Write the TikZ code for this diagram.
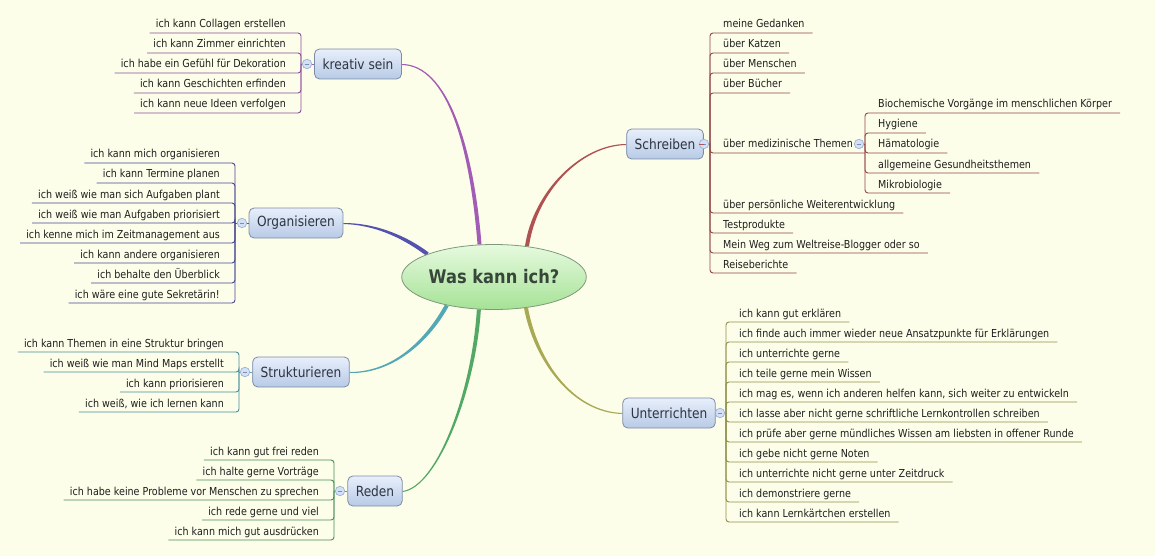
\documentclass[tikz,border=0pt]{standalone}
\usepackage{fontspec}
\setmainfont{DejaVu Sans}[FakeStretch=0.87]
\usetikzlibrary{calc, shapes.geometric}

\definecolor{paper}{HTML}{FDFEE9}
\definecolor{leaftext}{HTML}{1E1E1E}
\definecolor{boxtext}{HTML}{2E3440}
\definecolor{boxline}{HTML}{7D8CA6}
\definecolor{boxtop}{HTML}{E8EFFB}
\definecolor{boxbot}{HTML}{B7CAE6}
\definecolor{rootline}{HTML}{7E9A7A}
\definecolor{roottop}{HTML}{E6FADF}
\definecolor{rootbot}{HTML}{A6E296}
\definecolor{roottext}{HTML}{37473A}
\definecolor{foldfill}{HTML}{D3E0F5}
\definecolor{foldline}{HTML}{9CB2D6}
\definecolor{kreativ}{HTML}{A25CB5}
\definecolor{orga}{HTML}{5452AE}
\definecolor{struk}{HTML}{52A8B5}
\definecolor{reden}{HTML}{52A865}
\definecolor{schreib}{HTML}{AE5252}
\definecolor{unterr}{HTML}{A8A855}

\pgfdeclarelayer{links}
\pgfsetlayers{links,main}

\begin{document}
\begin{tikzpicture}[x=1pt, y=-1pt,
    leaf/.style={font=\fontsize{11}{13}\selectfont, text=leaftext, inner sep=0pt},
    lleaf/.style={leaf, anchor=base east},
    rleaf/.style={leaf, anchor=base west},
    branch/.style={draw=boxline, line width=0.8pt, rounded corners=5pt, top color=boxtop, bottom color=boxbot,
        minimum height=30pt, inner xsep=8pt, font=\fontsize{14}{16}\selectfont, text=boxtext},
    root/.style={ellipse, draw=rootline, line width=0.8pt, top color=roottop, bottom color=rootbot,
        minimum width=182pt, minimum height=65pt, inner sep=0pt, font=\bfseries\fontsize{18.7}{22}\selectfont, text=roottext},
    fold/.style={circle, draw=foldline, fill=foldfill, line width=0.7pt, minimum size=9.5pt, inner sep=0pt,
        path picture={\draw[foldline!80!black, line width=0.8pt] ([xshift=-2.3pt]path picture bounding box.center) -- ([xshift=2.3pt]path picture bounding box.center);}},
    twig/.style={line width=0.9pt, rounded corners=3pt}
]
    \useasboundingbox (0,0) rectangle (1155,556);
    \begin{pgfonlayer}{links}
        \fill[paper] (0,0) rectangle (1155,556);
    \end{pgfonlayer}

    % --- Mitte ---
    \node[root] (wk) at (494,277) {Was kann ich?};

    % --- kreativ sein ---
    \node[branch] (kr) at (358,64) {kreativ sein};
    \node[fold] (kf) at (307,64) {};
    \coordinate (kj) at (301,64);
    \node[lleaf] (k1) at (286,28) {ich kann Collagen erstellen};
    \node[lleaf] (k2) at (286,48) {ich kann Zimmer einrichten};
    \node[lleaf] (k3) at (286,68) {ich habe ein Gefühl für Dekoration};
    \node[lleaf] (k4) at (286,88) {ich kann Geschichten erfinden};
    \node[lleaf] (k5) at (286,108) {ich kann neue Ideen verfolgen};
    \draw[twig, kreativ] (kr) -- (kf);
    \draw[twig, kreativ] (kf) -- (kj);
    \foreach \i in {1,...,5} \draw[twig, kreativ!85!black] (kj) |- ($(k\i.base west)+(-6,5)$);

    % --- Organisieren ---
    \node[branch] (or) at (296,223) {Organisieren};
    \node[fold] (of) at (242,223) {};
    \coordinate (oj) at (235,223);
    \node[lleaf] (o1) at (220,158) {ich kann mich organisieren};
    \node[lleaf] (o2) at (220,178) {ich kann Termine planen};
    \node[lleaf] (o3) at (220,198) {ich weiß wie man sich Aufgaben plant};
    \node[lleaf] (o4) at (220,218) {ich weiß wie man Aufgaben priorisiert};
    \node[lleaf] (o5) at (220,238) {ich kenne mich im Zeitmanagement aus};
    \node[lleaf] (o6) at (220,258) {ich kann andere organisieren};
    \node[lleaf] (o7) at (220,278) {ich behalte den Überblick};
    \node[lleaf] (o8) at (220,298) {ich wäre eine gute Sekretärin!};
    \draw[twig, orga] (or) -- (of);
    \draw[twig, orga] (of) -- (oj);
    \foreach \i in {1,...,8} \draw[twig, orga!85!black] (oj) |- ($(o\i.base west)+(-6,5)$);

    % --- Strukturieren ---
    \node[branch] (st) at (301,372) {Strukturieren};
    \node[fold] (tf) at (245,372) {};
    \coordinate (tj) at (239,372);
    \node[lleaf] (t1) at (224,347) {ich kann Themen in eine Struktur bringen};
    \node[lleaf] (t2) at (224,367) {ich weiß wie man Mind Maps erstellt};
    \node[lleaf] (t3) at (224,387) {ich kann priorisieren};
    \node[lleaf] (t4) at (224,407) {ich weiß, wie ich lernen kann};
    \draw[twig, struk] (st) -- (tf);
    \draw[twig, struk] (tf) -- (tj);
    \foreach \i in {1,...,4} \draw[twig, struk!85!black] (tj) |- ($(t\i.base west)+(-6,5)$);

    % --- Reden ---
    \node[branch] (rd) at (375,491) {Reden};
    \node[fold] (rf) at (340,491) {};
    \coordinate (rj) at (334,491);
    \node[lleaf] (r1) at (319,455) {ich kann gut frei reden};
    \node[lleaf] (r2) at (319,475) {ich halte gerne Vorträge};
    \node[lleaf] (r3) at (319,495) {ich habe keine Probleme vor Menschen zu sprechen};
    \node[lleaf] (r4) at (319,515) {ich rede gerne und viel};
    \node[lleaf] (r5) at (319,535) {ich kann mich gut ausdrücken};
    \draw[twig, reden] (rd) -- (rf);
    \draw[twig, reden] (rf) -- (rj);
    \foreach \i in {1,...,5} \draw[twig, reden!85!black] (rj) |- ($(r\i.base west)+(-6,5)$);

    % --- Schreiben ---
    \node[branch] (sc) at (665,144) {Schreiben};
    \node[fold] (sf) at (704,144) {};
    \coordinate (sj) at (710,144);
    \node[rleaf] (s1) at (723,28) {meine Gedanken};
    \node[rleaf] (s2) at (723,48) {über Katzen};
    \node[rleaf] (s3) at (723,68) {über Menschen};
    \node[rleaf] (s4) at (723,88) {über Bücher};
    \node[rleaf] (s5) at (723,148) {über medizinische Themen};
    \node[rleaf] (s6) at (723,208) {über persönliche Weiterentwicklung};
    \node[rleaf] (s7) at (723,228) {Testprodukte};
    \node[rleaf] (s8) at (723,248) {Mein Weg zum Weltreise-Blogger oder so};
    \node[rleaf] (s9) at (723,268) {Reiseberichte};
    \draw[twig, schreib] (sc) -- (sf);
    \draw[twig, schreib] (sf) -- (sj);
    \foreach \i in {1,2,3,4,6,7,8,9} \draw[twig, schreib!85!black] (sj) |- ($(s\i.base east)+(8,5)$);

    % medizinische Themen
    \node[fold] (mf) at (859,144) {};
    \coordinate (mj) at (865,144);
    \node[rleaf] (m1) at (878,108) {Biochemische Vorgänge im menschlichen Körper};
    \node[rleaf] (m2) at (878,128) {Hygiene};
    \node[rleaf] (m3) at (878,148) {Hämatologie};
    \node[rleaf] (m4) at (878,168) {allgemeine Gesundheitsthemen};
    \node[rleaf] (m5) at (878,188) {Mikrobiologie};
    \draw[twig, schreib!85!black] (sj) |- ($(mj)+(0,9)$);
    \draw[twig, schreib!85!black] (mf) -- (mj);
    \foreach \i in {1,...,5} \draw[twig, schreib!85!black] (mj) |- ($(m\i.base east)+(8,5)$);

    % --- Unterrichten ---
    \node[branch] (ur) at (669,413) {Unterrichten};
    \node[fold] (uf) at (720,413) {};
    \coordinate (uj) at (726,413);
    \node[rleaf] (u1) at (739,317) {ich kann gut erklären};
    \node[rleaf] (u2) at (739,337) {ich finde auch immer wieder neue Ansatzpunkte für Erklärungen};
    \node[rleaf] (u3) at (739,357) {ich unterrichte gerne};
    \node[rleaf] (u4) at (739,377) {ich teile gerne mein Wissen};
    \node[rleaf] (u5) at (739,397) {ich mag es, wenn ich anderen helfen kann, sich weiter zu entwickeln};
    \node[rleaf] (u6) at (739,417) {ich lasse aber nicht gerne schriftliche Lernkontrollen schreiben};
    \node[rleaf] (u7) at (739,437) {ich prüfe aber gerne mündliches Wissen am liebsten in offener Runde};
    \node[rleaf] (u8) at (739,457) {ich gebe nicht gerne Noten};
    \node[rleaf] (u9) at (739,477) {ich unterrichte nicht gerne unter Zeitdruck};
    \node[rleaf] (u10) at (739,497) {ich demonstriere gerne};
    \node[rleaf] (u11) at (739,517) {ich kann Lernkärtchen erstellen};
    \draw[twig, unterr] (ur) -- (uf);
    \draw[twig, unterr] (uf) -- (uj);
    \foreach \i in {1,...,11} \draw[twig, unterr!85!black] (uj) |- ($(u\i.base east)+(8,5)$);

    % --- Hauptäste (spitz zulaufend) ---
    \begin{pgfonlayer}{links}
        \fill[kreativ] (kr.east) .. controls +(45,0) and +(-8,-100) .. ($(wk.114)+(2,0)$)
            -- ($(wk.114)+(-2,0)$) .. controls +(-8,-100) and +(45,1) .. ($(kr.east)+(0,1)$) -- cycle;
        \fill[orga] (or.east) .. controls +(35,0) and +(-20,-15) .. ($(wk.161)+(1.2,-1.6)$)
            -- ($(wk.161)+(-1.2,1.6)$) .. controls +(-20,-15) and +(35,1) .. ($(or.east)+(0,1)$) -- cycle;
        \fill[struk] (st.east) .. controls +(45,0) and +(-18,33) .. ($(wk.211)+(-1.75,-0.96)$)
            -- ($(wk.211)+(1.75,0.96)$) .. controls +(-18,33) and +(45,1) .. ($(st.east)+(0,1)$) -- cycle;
        \fill[reden] (rd.east) .. controls +(35,-5) and +(-5,81) .. ($(wk.245)+(-2,0)$)
            -- ($(wk.245)+(2,0)$) .. controls +(-5,81) and +(35,-4) .. ($(rd.east)+(0,1)$) -- cycle;
        \fill[schreib] (sc.west) .. controls +(-45,0) and +(8,-55) .. ($(wk.43)+(-2,0)$)
            -- ($(wk.43)+(2,0)$) .. controls +(8,-55) and +(-45,1) .. ($(sc.west)+(0,1)$) -- cycle;
        \fill[unterr] (ur.west) .. controls +(-50,-2) and +(10,53) .. ($(wk.316.5)+(2,0)$)
            -- ($(wk.316.5)+(-2,0)$) .. controls +(10,53) and +(-50,-1) .. ($(ur.west)+(0,1)$) -- cycle;
    \end{pgfonlayer}
\end{tikzpicture}
\end{document}
